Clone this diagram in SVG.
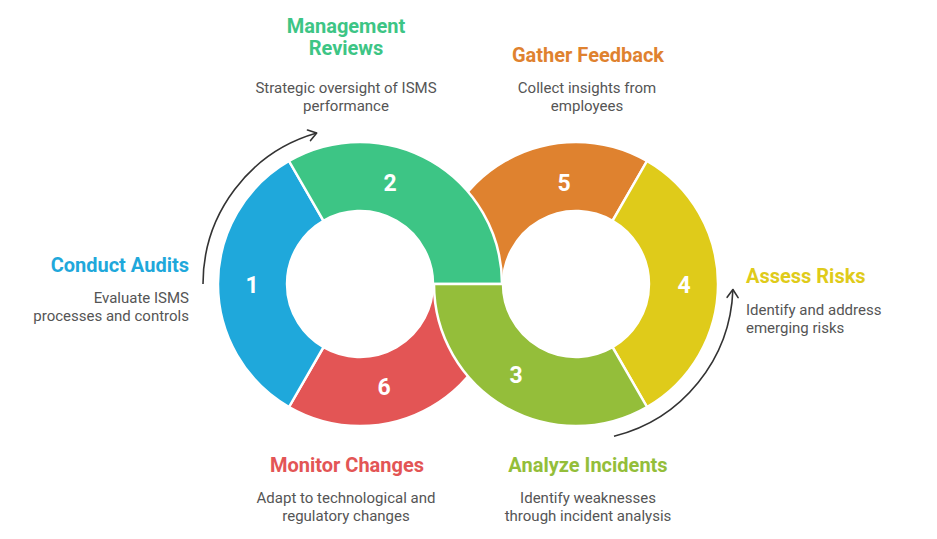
<svg xmlns="http://www.w3.org/2000/svg" width="937" height="539" viewBox="0 0 937 539">
<style>
.seg{stroke:#ffffff;stroke-width:2.5;stroke-linejoin:round}
.num{font-family:Roboto,"Liberation Sans",sans-serif;font-weight:700;font-size:23px;fill:#ffffff;text-anchor:middle}
.title{font-family:Roboto,"Liberation Sans",sans-serif;font-weight:700;font-size:20px}
.desc{font-family:Roboto,"Liberation Sans",sans-serif;font-size:15px;fill:#555555}
.mid{text-anchor:middle}
.end{text-anchor:end}
.conn{fill:none;stroke:#333333;stroke-width:1.6}
</style>
<defs>
<marker id="arr" markerUnits="userSpaceOnUse" markerWidth="20" markerHeight="20" refX="0" refY="0" viewBox="-10 -10 20 20" orient="auto">
<path d="M -8 -5.5 L 0 0 L -8 5.5" fill="none" stroke="#333333" stroke-width="1.6" stroke-linecap="round" stroke-linejoin="round"/>
</marker>
</defs>
<rect width="937" height="539" fill="#ffffff"/>
<g id="node-5">
<path class="seg" fill="#DF822F" d="M 434 284 A 142 142 0 0 1 647 161 L 612.5 220.8 A 73 73 0 0 0 503 284 Z"/>
<text class="num" x="564" y="191">5</text>
</g>
<g id="node-6">
<path class="seg" fill="#E35555" d="M 502 284 A 142 142 0 0 1 289 407 L 323.5 347.2 A 73 73 0 0 0 433 284 Z"/>
<text class="num" x="384" y="395">6</text>
</g>
<g id="node-1">
<path class="seg" fill="#1FA8DB" d="M 289 407 A 142 142 0 0 1 289 161 L 323.5 220.8 A 73 73 0 0 0 323.5 347.2 Z"/>
<text class="num" x="252" y="293">1</text>
</g>
<g id="node-2">
<path class="seg" fill="#3DC585" d="M 289 161 A 142 142 0 0 1 502 284 L 433 284 A 73 73 0 0 0 323.5 220.8 Z"/>
<text class="num" x="390" y="191">2</text>
</g>
<g id="node-4">
<path class="seg" fill="#DFCB1A" d="M 647 161 A 142 142 0 0 1 647 407 L 612.5 347.2 A 73 73 0 0 0 612.5 220.8 Z"/>
<text class="num" x="684" y="293">4</text>
</g>
<g id="node-3">
<path class="seg" fill="#94BE3A" d="M 647 407 A 142 142 0 0 1 434 284 L 503 284 A 73 73 0 0 0 612.5 347.2 Z"/>
<text class="num" x="516" y="383">3</text>
</g>
<g id="connectors">
<path class="conn" d="M 203 284 A 157 157 0 0 1 316.7 133.1" marker-end="url(#arr)"/>
<path class="conn" d="M 614 436.3 A 157 157 0 0 0 732.9 289.5" marker-end="url(#arr)"/>
</g>
<g id="label-2">
<text class="title mid" x="346" y="33" fill="#3DC585">Management</text>
<text class="title mid" x="346" y="55" fill="#3DC585">Reviews</text>
<text class="desc mid" x="346" y="93">Strategic oversight of ISMS</text>
<text class="desc mid" x="346" y="111">performance</text>
</g>
<g id="label-5">
<text class="title mid" x="588" y="62" fill="#DF822F">Gather Feedback</text>
<text class="desc mid" x="587" y="93">Collect insights from</text>
<text class="desc mid" x="587" y="111">employees</text>
</g>
<g id="label-1">
<text class="title end" x="189" y="272" fill="#1FA8DB">Conduct Audits</text>
<text class="desc end" x="189" y="303">Evaluate ISMS</text>
<text class="desc end" x="189" y="321">processes and controls</text>
</g>
<g id="label-4">
<text class="title" x="746" y="283" fill="#DFCB1A">Assess Risks</text>
<text class="desc" x="746" y="315">Identify and address</text>
<text class="desc" x="746" y="333">emerging risks</text>
</g>
<g id="label-6">
<text class="title mid" x="347" y="472" fill="#E35555">Monitor Changes</text>
<text class="desc mid" x="346" y="503">Adapt to technological and</text>
<text class="desc mid" x="346" y="521">regulatory changes</text>
</g>
<g id="label-3">
<text class="title mid" x="588" y="472" fill="#94BE3A">Analyze Incidents</text>
<text class="desc mid" x="588" y="503">Identify weaknesses</text>
<text class="desc mid" x="588" y="521">through incident analysis</text>
</g>
</svg>
